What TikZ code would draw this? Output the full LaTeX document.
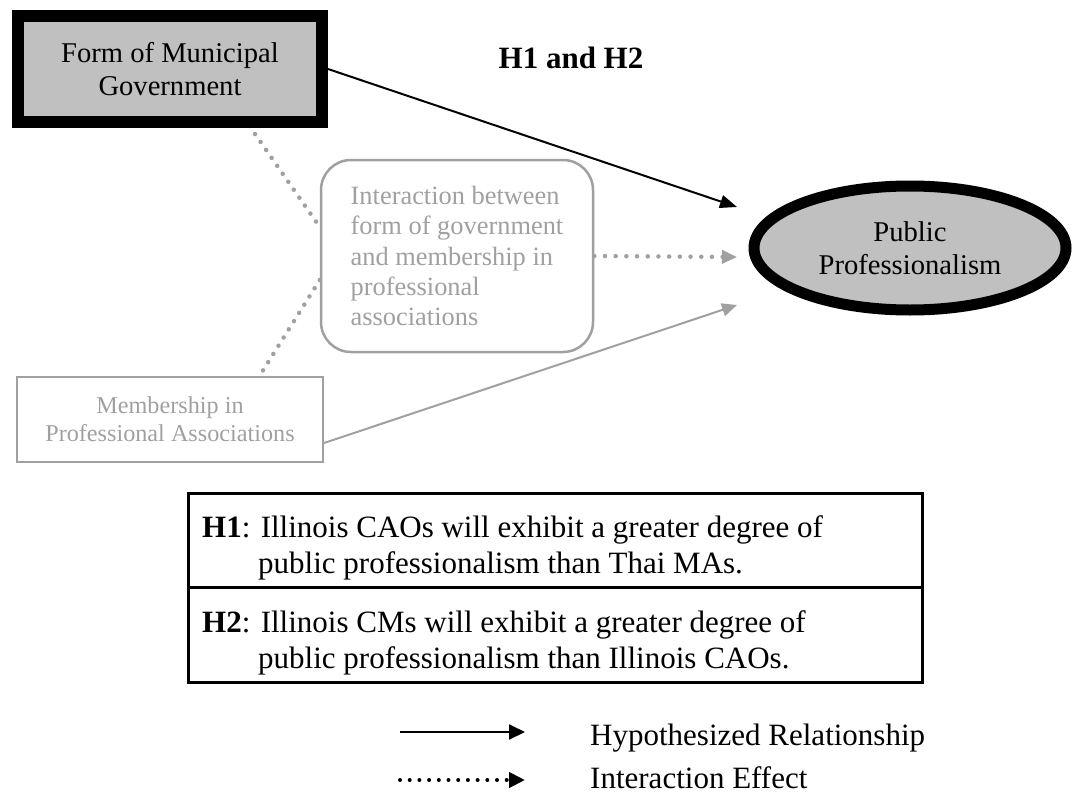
\documentclass[tikz,border=0pt]{standalone}
\usepackage{fontspec}
\setmainfont{Liberation Serif}
\usetikzlibrary{arrows.meta,shapes.geometric}
\definecolor{boxfill}{HTML}{C0C0C0}
\definecolor{lgray}{HTML}{A0A0A0}
\newcommand{\fsA}{\fontsize{31}{35.6}\selectfont}
\newcommand{\fsB}{\fontsize{28.6}{32.9}\selectfont}
\newcommand{\fsC}{\fontsize{26.4}{30.4}\selectfont}
\newcommand{\fsD}{\fontsize{24.2}{27.8}\selectfont}
\begin{document}
\begin{tikzpicture}[x=1pt,y=-1pt,
  mainbox/.style={draw=black,fill=boxfill,line width=12pt,minimum width=304pt,minimum height=106pt,inner sep=0pt,align=center,font=\fsB},
  mainellipse/.style={ellipse,draw=black,fill=boxfill,line width=11pt,minimum width=312pt,minimum height=124pt,inner sep=0pt,align=center,font=\fsB},
  interbox/.style={draw=lgray,line width=2.5pt,rounded corners=30pt,minimum width=272pt,minimum height=192pt,inner sep=0pt,align=left,text=lgray,font=\fsC},
  membbox/.style={draw=lgray,line width=2pt,minimum width=306pt,minimum height=85pt,inner sep=0pt,align=center,text=lgray,font=\fsD},
  hypbox/.style={draw=black,line width=3pt,minimum width=734pt,minimum height=189pt,inner sep=0pt},
  hyptext/.style={anchor=base west,inner sep=0pt,font=\fsA},
  blackarrow/.style={draw=black,line width=2pt,-{Triangle[length=17pt,width=13pt]}},
  grayarrow/.style={draw=lgray,line width=2pt,-{Triangle[length=15pt,width=13pt]}},
  graydots/.style={draw=lgray,line width=4.5pt,line cap=round,dash pattern=on 0pt off 9.7pt},
  graydotarrow/.style={draw=lgray,line width=4.5pt,line cap=round,dash pattern=on 0pt off 10.7pt,-{Triangle[length=15pt,width=13pt]}},
  legsolid/.style={draw=black,line width=2pt,-{Triangle[length=16pt,width=15pt]}},
  legdots/.style={draw=black,line width=4pt,line cap=round,dash pattern=on 0pt off 9.7pt,-{Triangle[length=16pt,width=15pt]}},
  legtext/.style={anchor=base west,inner sep=0pt,font=\fsA}]
\useasboundingbox (0,0) rectangle (1075,797);

% nodes
\node[mainbox] (fmg) at (170,69) {Form of Municipal\\Government};
\node[anchor=center,inner sep=0pt,font=\fsA\bfseries] (title) at (571,58) {H1 and H2};
\node[interbox] (inter) at (457,256) {Interaction between\\form of government\\and membership in\\professional\\associations};
\node[membbox] (memb) at (170,419.5) {Membership in\\Professional Associations};
\node[mainellipse] (pp) at (910,248) {Public\\Professionalism};

% arrow tips (free ends)
\coordinate (tipA) at (737,207);
\coordinate (tipB) at (737,257);
\coordinate (tipC) at (737,305);

% connectors
\draw[blackarrow] (fmg.east) -- (tipA);
\draw[graydots] ([xshift=85pt,yshift=-6pt]fmg.south) -- ([yshift=29pt]inter.west);
\draw[graydots] ([yshift=-24pt]inter.west) -- ([xshift=92pt,yshift=4pt]memb.north);
\draw[graydotarrow] (inter.east) -- (tipB);
\draw[grayarrow] ([yshift=-23.5pt]memb.east) -- (tipC);

% hypotheses box
\node[hypbox] (hyp) at (555,587.5) {};
\draw[black,line width=3pt] (hyp.west) -- (hyp.east);
\node[hyptext] (h1a) at (202,537) {\textbf{H1}: Illinois CAOs will exhibit a greater degree of};
\node[hyptext] (h1b) at (258,573) {public professionalism than Thai MAs.};
\node[hyptext] (h2a) at (202,632) {\textbf{H2}: Illinois CMs will exhibit a greater degree of};
\node[hyptext] (h2b) at (258,668) {public professionalism than Illinois CAOs.};

% legend
\coordinate (legA1) at (400,732);
\coordinate (legA2) at (525,732);
\coordinate (legB1) at (400,780);
\coordinate (legB2) at (525,780);
\draw[legsolid] (legA1) -- (legA2);
\draw[legdots] (legB1) -- (legB2);
\node[legtext] (legAt) at (590,745) {Hypothesized Relationship};
\node[legtext] (legBt) at (590,788) {Interaction Effect};
\end{tikzpicture}
\end{document}
